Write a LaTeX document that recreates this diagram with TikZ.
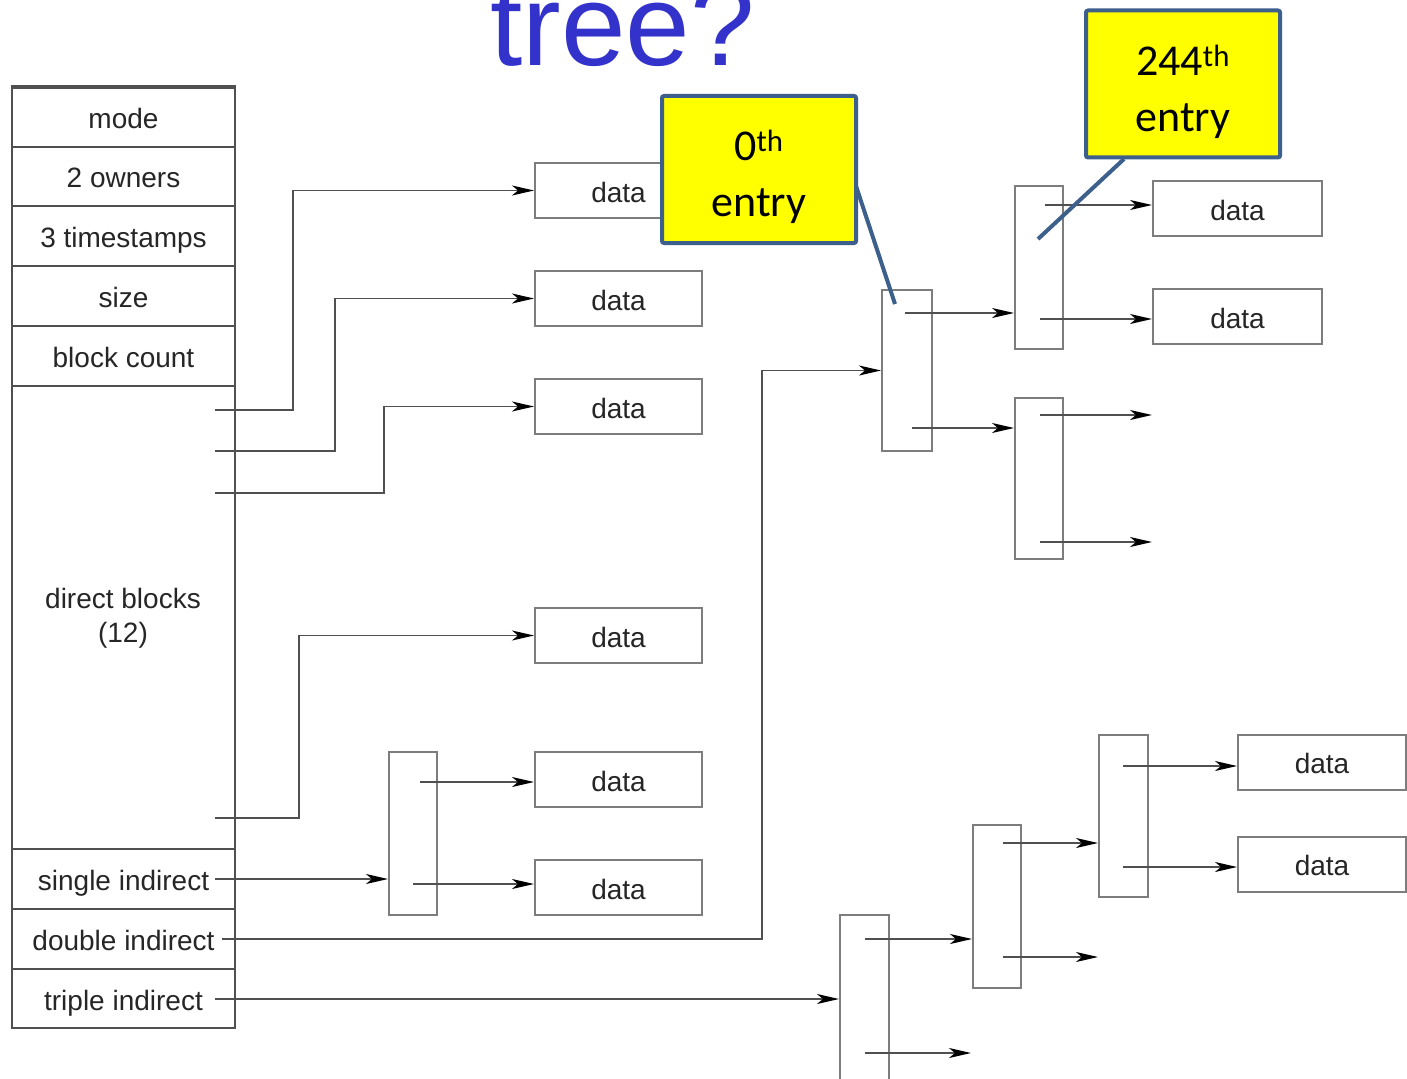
\documentclass[tikz,border=0pt]{standalone}
\usepackage{fontspec}
\setmainfont{Liberation Sans}
\newfontfamily\calloutfont{Carlito}
\usetikzlibrary{arrows.meta}
\definecolor{linegray}{RGB}{80,80,80}
\definecolor{boxgray}{RGB}{125,125,125}
\definecolor{titleblue}{RGB}{51,51,204}
\definecolor{callborder}{RGB}{60,95,140}
\definecolor{callfill}{RGB}{255,255,0}
\begin{document}
\begin{tikzpicture}[x=1pt,y=-1pt,
  lbl/.style={font=\fontsize{28}{34}\selectfont, text=black!85},
  rowbox/.style={draw=linegray, line width=2pt, minimum width=223pt, inner sep=0pt, text height=23pt, text depth=0pt, lbl},
  databox/.style={draw=boxgray, line width=2pt, minimum width=167pt, minimum height=55pt, inner sep=0pt, text height=23pt, text depth=0pt, lbl},
  ptrbox/.style={draw=boxgray, line width=2pt, minimum width=48pt, minimum height=163pt, inner sep=0pt},
  conn/.style={draw=linegray, line width=1.8pt, -{Stealth[length=22pt,width=10pt,inset=6pt,color=black]}},
  callbox/.style={draw=callborder, fill=callfill, line width=4pt, rounded corners=2pt, minimum width=194pt, minimum height=147pt, inner sep=0pt},
  calltext/.style={align=center, inner sep=0pt, font=\calloutfont\fontsize{44}{56}\selectfont},
  pointer/.style={draw=callborder, line width=4pt}
]
\useasboundingbox (0,0) rectangle (1407,1078);
\fill[white] (0,0) rectangle (1407,1078);

% title
\node[anchor=base west, inner sep=0pt, font=\fontsize{116}{130}\selectfont, text=titleblue] (title) at (490,66) {tree?};

% inode table
\node[draw=linegray, line width=2.5pt, minimum width=223pt, minimum height=942pt, inner sep=0pt] (inode) at (123.5,557) {};
\node[rowbox, minimum height=59pt] (mode) at (123.5,117.5) {mode};
\node[rowbox, minimum height=59pt] (owners) at (123.5,176.5) {2 owners};
\node[rowbox, minimum height=60pt] (times) at (123.5,236) {3 timestamps};
\node[rowbox, minimum height=60pt] (size) at (123.5,296) {size};
\node[rowbox, minimum height=60pt] (bcount) at (123.5,356) {block count};
\node[draw=linegray, line width=2pt, minimum width=223pt, minimum height=463pt, inner sep=0pt] (direct) at (123.5,617.5) {};
\node[lbl, align=center, inner sep=0pt] (directlbl) at (123,618) {direct blocks\\(12)};
\node[rowbox, minimum height=60pt] (single) at (123.5,879) {single indirect};
\node[rowbox, minimum height=60pt] (double) at (123.5,939) {double indirect};
\node[rowbox, minimum height=59pt] (triple) at (123.5,998.5) {triple indirect};

% data blocks
\node[databox] (d1) at (618.5,190.5) {data};
\node[databox] (d2) at (618.5,298.5) {data};
\node[databox] (d3) at (618.5,406.5) {data};
\node[databox] (d4) at (618.5,635.5) {data};
\node[databox] (d5) at (618.5,779.5) {data};
\node[databox] (d6) at (618.5,887.5) {data};
\node[databox, minimum width=169pt] (dd1) at (1237.5,208.5) {data};
\node[databox, minimum width=169pt] (dd2) at (1237.5,316.5) {data};
\node[databox, minimum width=168pt] (td1) at (1322,762) {data};
\node[databox, minimum width=168pt] (td2) at (1322,864) {data};

% pointer blocks
\node[ptrbox] (S1) at (413,833.5) {};
\node[ptrbox, minimum width=50pt, minimum height=161pt] (D1) at (907,370.5) {};
\node[ptrbox] (D2a) at (1039,267.5) {};
\node[ptrbox, minimum height=161pt] (D2b) at (1039,478.5) {};
\node[ptrbox, minimum width=49pt, minimum height=175pt] (T1) at (864.5,1002.5) {};
\node[ptrbox] (T2) at (997,906.5) {};
\node[ptrbox, minimum width=49pt, minimum height=162pt] (T3) at (1123.5,816) {};

% free ends
\coordinate (db1) at (215,410);
\coordinate (db2) at (215,451);
\coordinate (db3) at (215,493);
\coordinate (db4) at (215,818);
\coordinate (sgl) at (215,879);
\coordinate (dbl) at (222,939);
\coordinate (tpl) at (215,999);
\coordinate (s1a) at (420,782);
\coordinate (s1b) at (413,884);
\coordinate (d1a) at (905,313);
\coordinate (d1b) at (912,428);
\coordinate (d2aa) at (1045,205);
\coordinate (d2ab) at (1040,319);
\coordinate (d2ba) at (1040,415);
\coordinate (d2bb) at (1040,542);
\coordinate (d2bae) at (1152,415);
\coordinate (d2bbe) at (1152,542);
\coordinate (t1a) at (865,939);
\coordinate (t1b) at (865,1053);
\coordinate (t1be) at (971,1053);
\coordinate (t2a) at (1003,843);
\coordinate (t2b) at (1003,957);
\coordinate (t2be) at (1098,957);
\coordinate (t3a) at (1123,766);
\coordinate (t3b) at (1123,867);

% direct block pointers
\draw[conn] (db1) -- ++(78,0) |- (d1.west);
\draw[conn] (db2) -- ++(120,0) |- (d2.west);
\draw[conn] (db3) -- ++(169,0) |- (d3.west);
\draw[conn] (db4) -- ++(84,0) |- (d4.west);

% single indirect
\draw[conn] (sgl) -- (sgl -| S1.west);
\draw[conn] (s1a) -- (s1a -| d5.west);
\draw[conn] (s1b) -- (s1b -| d6.west);

% double indirect
\draw[conn] (dbl) -- ++(540,0) |- (D1.west);
\draw[conn] (d1a) -- (d1a -| D2a.west);
\draw[conn] (d1b) -- (d1b -| D2b.west);
\draw[conn] (d2aa) -- (d2aa -| dd1.west);
\draw[conn] (d2ab) -- (d2ab -| dd2.west);
\draw[conn] (d2ba) -- (d2bae);
\draw[conn] (d2bb) -- (d2bbe);

% triple indirect
\draw[conn] (tpl) -- (tpl -| T1.west);
\draw[conn] (t1a) -- (t1a -| T2.west);
\draw[conn] (t1b) -- (t1be);
\draw[conn] (t2a) -- (t2a -| T3.west);
\draw[conn] (t2b) -- (t2be);
\draw[conn] (t3a) -- (t3a -| td1.west);
\draw[conn] (t3b) -- (t3b -| td2.west);

% callouts
\coordinate (p0) at (895,304);
\coordinate (p244) at (1038,239);
\node[callbox] (c0) at (759,169.5) {};
\node[calltext] (c0t) at (759,177) {0\textsuperscript{th}\\entry};
\draw[pointer] (856,186) -- (p0);
\node[callbox] (c244) at (1183,84) {};
\node[calltext] (c244t) at (1183,92) {244\textsuperscript{th}\\entry};
\draw[pointer] (1124,159) -- (p244);
\end{tikzpicture}
\end{document}
